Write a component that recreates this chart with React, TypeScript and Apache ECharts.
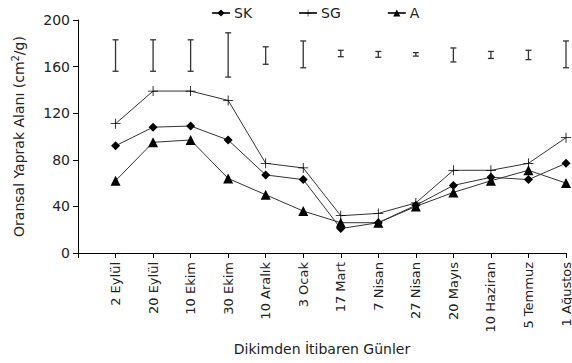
import React, { useEffect, useRef } from "react";
import * as echarts from "echarts";

const categories = ["", "2 Eylül", "20 Eylül", "10 Ekim", "30 Ekim", "10 Aralık", "3 Ocak", "17 Mart", "7 Nisan", "27 Nisan", "20 Mayıs", "10 Haziran", "5 Temmuz", "1 Ağustos"];
const skValues = [null, 92, 108, 109, 97, 67, 63, 21, 26, 41, 58, 65, 63, 77];
const sgValues = [null, 111, 139, 139, 131, 77, 73, 32, 34, 43, 71, 71, 77, 99];
const aValues = [null, 62, 95, 97, 64, 50, 36, 26, 26, 40, 52, 62, 71, 60];
const errLow = [156, 156, 156, 151, 162, 159, 168.5, 168, 169, 164, 167, 166, 159];
const errHigh = [183, 183, 183, 189, 177, 182, 174, 173, 172, 176, 173, 174, 182];
const yTicks = [0, 40, 80, 120, 160, 200];

const FONT = "DejaVu Sans";
const TXT = "#222";

export default function App() {
  const ref = useRef<HTMLDivElement>(null);
  useEffect(() => {
    if (!ref.current) return;
    const chart = echarts.init(ref.current, undefined, { renderer: "svg" });
    const errData = errLow.map((lo, i) => [i + 1, lo, errHigh[i]]);
    const plus = "path://M4.6,0h0.8v10h-0.8zM0,4.6h10v0.8h-10z";
    chart.setOption({
      animation: false,
      backgroundColor: "#fff",
      textStyle: { fontFamily: FONT },
      legend: {
        data: ["SK", "SG", "A"],
        left: 206,
        top: 1,
        itemGap: 46,
        itemWidth: 18,
        itemHeight: 9,
        textStyle: { fontFamily: FONT, fontSize: 14, color: TXT, padding: [0, 0, 0, -1] },
      },
      grid: { left: 78, right: 6, top: 20, bottom: 110, outerBoundsMode: "none" },
      xAxis: {
        type: "category",
        data: categories,
        boundaryGap: false,
        axisLine: { lineStyle: { color: "#000", width: 1 } },
        axisTick: { length: 5, interval: 0, lineStyle: { color: "#000" } },
        axisLabel: { rotate: 90, interval: 0, margin: 9, fontSize: 13, color: TXT, fontFamily: FONT },
        name: "Dikimden İtibaren Günler",
        nameLocation: "middle",
        nameGap: 89,
        nameTextStyle: { fontSize: 14, color: TXT, fontFamily: FONT },
      },
      yAxis: {
        type: "value",
        min: yTicks[0],
        max: yTicks[yTicks.length - 1],
        interval: 40,
        splitLine: { show: false },
        axisLine: { show: true, lineStyle: { color: "#000", width: 1 } },
        axisTick: { show: true, length: 5, lineStyle: { color: "#000" } },
        axisLabel: { fontSize: 14, color: TXT, fontFamily: FONT, margin: 8 },
        name: "Oransal Yaprak Alanı (cm{sup|2}/g)",
        nameLocation: "middle",
        nameRotate: 90,
        nameGap: 50,
        nameTextStyle: {
          fontSize: 14,
          color: TXT,
          fontFamily: FONT,
          rich: { sup: { fontSize: 10, verticalAlign: "top", padding: [0, 0, 8, 0], color: TXT, fontFamily: FONT } },
        },
      },
      series: [
        {
          name: "SK",
          type: "line",
          data: skValues,
          symbol: "diamond",
          symbolSize: 9,
          color: "#000",
          lineStyle: { color: "#333", width: 1 },
          itemStyle: { color: "#000" },
          z: 3,
        },
        {
          name: "SG",
          type: "line",
          data: sgValues,
          symbol: plus,
          symbolSize: 10,
          color: "#000",
          lineStyle: { color: "#333", width: 1 },
          itemStyle: { color: "#000" },
          z: 3,
        },
        {
          name: "A",
          type: "line",
          data: aValues,
          symbol: "triangle",
          symbolSize: 10,
          color: "#000",
          lineStyle: { color: "#333", width: 1 },
          itemStyle: { color: "#000" },
          z: 3,
        },
        {
          name: "err",
          type: "custom",
          data: errData,
          silent: true,
          renderItem: (params: any, api: any) => {
            const x = api.value(0);
            const lo = api.coord([x, api.value(1)]);
            const hi = api.coord([x, api.value(2)]);
            const w = 3;
            const style = { stroke: "#333", lineWidth: 1.3 };
            return {
              type: "group",
              children: [
                { type: "line", shape: { x1: lo[0], y1: lo[1], x2: hi[0], y2: hi[1] }, style },
                { type: "line", shape: { x1: hi[0] - w, y1: hi[1], x2: hi[0] + w, y2: hi[1] }, style },
                { type: "line", shape: { x1: lo[0] - w, y1: lo[1], x2: lo[0] + w, y2: lo[1] }, style },
              ],
            };
          },
        },
      ],
    });
    return () => chart.dispose();
  }, []);
  return <div ref={ref} style={{ width: 572, height: 363, position: "absolute", left: 0, top: 0 }} />;
}
